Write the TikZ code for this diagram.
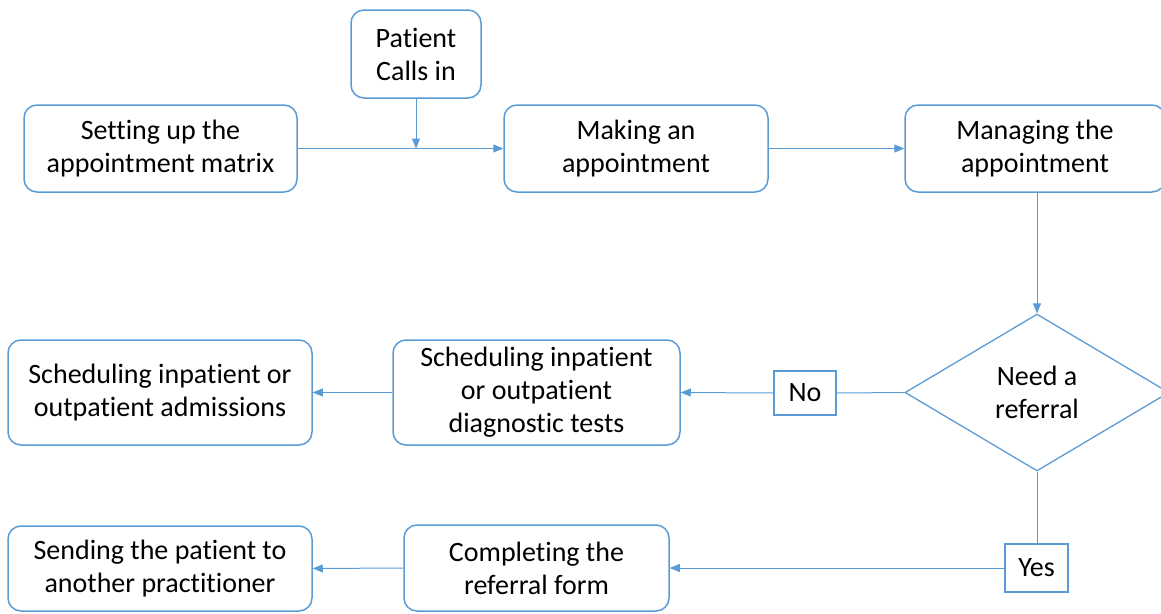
\documentclass[tikz,border=0pt]{standalone}
\usepackage{fontspec}
\setmainfont[Ligatures=NoCommon]{Carlito}
\usetikzlibrary{shapes.geometric,arrows.meta}
\definecolor{flowblue}{HTML}{5B9BD5}
\tikzset{
  boxtext/.style={align=center, font=\fontsize{28}{33}\selectfont, inner sep=0pt},
  stepbox/.style={boxtext, draw=flowblue, line width=1.5pt, rounded corners=13pt},
  tagbox/.style={boxtext, draw=flowblue, line width=1.5pt},
  choice/.style={boxtext, draw=flowblue, line width=1.3pt, diamond, aspect=1.68},
  link/.style={draw=flowblue, line width=1pt},
  arrowlink/.style={link, -{Triangle[length=10pt,width=8pt]}}
}
\begin{document}
\begin{tikzpicture}[x=1pt,y=-1pt]
\useasboundingbox (0,0) rectangle (1161,613);
\node[stepbox, minimum width=130pt, minimum height=88pt] (call) at (416,54) {Patient\\Calls in};
\node[stepbox, minimum width=273pt, minimum height=87pt] (setup) at (160.5,148.5) {Setting up the\\appointment matrix};
\node[stepbox, minimum width=264pt, minimum height=87pt] (make) at (636,148.5) {Making an\\appointment};
\node[stepbox, minimum width=260pt, minimum height=87pt] (manage) at (1035,148.5) {Managing the\\appointment};
\node[choice, minimum width=264pt, minimum height=157pt] (need) at (1037,392.5) {Need a\\referral};
\node[tagbox, minimum width=62pt, minimum height=44pt] (no) at (805,393) {No};
\node[stepbox, minimum width=287pt, minimum height=105pt] (tests) at (536.5,392.5) {Scheduling inpatient\\or outpatient\\diagnostic tests};
\node[stepbox, minimum width=304pt, minimum height=105pt] (admit) at (160,392.5) {Scheduling inpatient or\\outpatient admissions};
\node[tagbox, minimum width=63pt, minimum height=48pt] (yes) at (1036.5,568) {Yes};
\node[stepbox, minimum width=265pt, minimum height=86pt] (form) at (536.5,568) {Completing the\\referral form};
\node[stepbox, minimum width=304pt, minimum height=85pt] (send) at (160,568.5) {Sending the patient to\\another practitioner};
\coordinate (join) at (call.south |- setup.east);
\draw[arrowlink] (setup.east) -- (make.west);
\draw[arrowlink] (call.south) -- (join);
\draw[arrowlink] (make.east) -- (manage.west);
\draw[arrowlink] (manage.south -| need.north) -- (need.north);
\draw[link] (need.west) -- (no.east);
\draw[arrowlink] (no.west) -- (tests.east);
\draw[arrowlink] (tests.west) -- (admit.east);
\draw[link] (need.south) -- (yes.north -| need.south);
\draw[arrowlink] (yes.west) -- (form.east);
\draw[arrowlink] (form.west) -- (send.east);
\end{tikzpicture}
\end{document}
